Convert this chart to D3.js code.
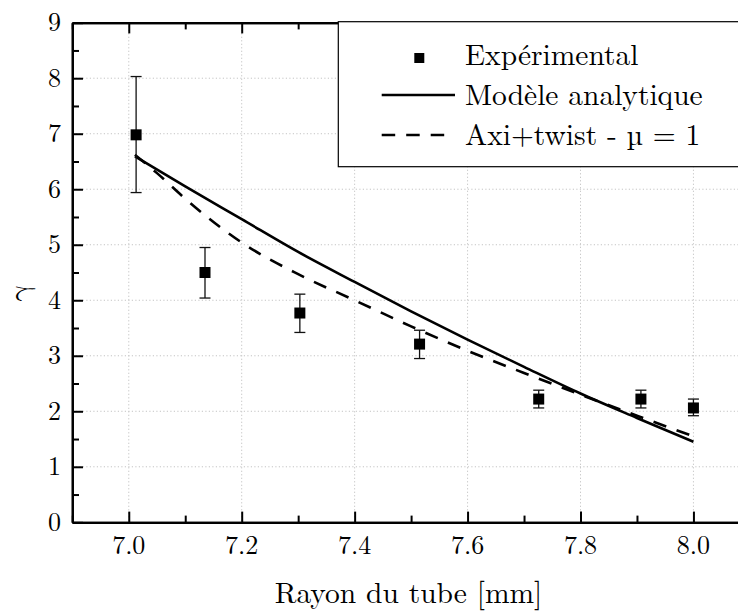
<!DOCTYPE html>
<html>
<head>
<meta charset="utf-8">
<script src="https://cdn.jsdelivr.net/npm/d3@7"></script>
</head>
<body style="margin:0;background:#fff">
<div id="chart"></div>
<script>
// Experimental points
const expX = [7.013, 7.135, 7.303, 7.515, 7.726, 7.907, 8.0];
const expY = [6.98, 4.50, 3.77, 3.21, 2.22, 2.22, 2.06];
const expLo = [5.94, 4.04, 3.42, 2.95, 2.06, 2.06, 1.92];
const expHi = [8.03, 4.95, 4.11, 3.46, 2.38, 2.38, 2.22];

// Modèle analytique
const modelX = [7.011, 7.1, 7.2, 7.3, 7.4, 7.5, 7.6, 7.7, 7.8, 7.9, 8.0];
const modelY = [6.59, 6.05, 5.46, 4.87, 4.33, 3.80, 3.29, 2.80, 2.32, 1.88, 1.45];

// Axi+twist - mu = 1
const axiX = [7.011, 7.05, 7.1, 7.15, 7.2, 7.3, 7.4, 7.5, 7.6, 7.7, 7.8, 7.9, 8.0];
const axiY = [6.62, 6.29, 5.83, 5.41, 5.04, 4.47, 4.00, 3.53, 3.09, 2.69, 2.30, 1.92, 1.55];

const xMajor = [7.0, 7.2, 7.4, 7.6, 7.8, 8.0];
const xMinor = [6.9, 7.1, 7.3, 7.5, 7.7, 7.9, 8.1];
const yMajor = [0, 1, 2, 3, 4, 5, 6, 7, 8, 9];
const yMinor = [0.5, 1.5, 2.5, 3.5, 4.5, 5.5, 6.5, 7.5, 8.5];

const legendLabels = ["Expérimental", "Modèle analytique", "Axi+twist - µ = 1"];

const FONT = "'Latin Modern Roman', 'Liberation Serif', serif";

const width = 738, height = 611;
const margin = { top: 22.7, left: 72.3 };
const plotW = 677.6, plotH = 499.6;

const svg = d3.select("#chart").append("svg")
  .attr("width", width)
  .attr("height", height)
  .attr("font-family", FONT);

const g = svg.append("g")
  .attr("transform", `translate(${margin.left},${margin.top})`);

const x = d3.scaleLinear().domain([6.9, 8.1]).range([0, plotW]);
const y = d3.scaleLinear().domain([0, 9]).range([plotH, 0]);

// Grid
g.append("g").selectAll("line")
  .data(xMajor)
  .join("line")
  .attr("x1", d => x(d)).attr("x2", d => x(d))
  .attr("y1", 0).attr("y2", plotH)
  .attr("stroke", "#c4c4c4").attr("stroke-width", 1)
  .attr("stroke-dasharray", "1.2,2.3");

g.append("g").selectAll("line")
  .data(yMajor.filter(d => d > 0 && d < 9))
  .join("line")
  .attr("x1", 0).attr("x2", plotW)
  .attr("y1", d => y(d)).attr("y2", d => y(d))
  .attr("stroke", "#c4c4c4").attr("stroke-width", 1)
  .attr("stroke-dasharray", "1.2,2.3");

// Lines
const model = modelX.map((d, i) => [d, modelY[i]]);
const axi = axiX.map((d, i) => [d, axiY[i]]);
const line = d3.line()
  .x(d => x(d[0]))
  .y(d => y(d[1]))
  .curve(d3.curveMonotoneX);

g.append("path")
  .datum(model)
  .attr("fill", "none")
  .attr("stroke", "#000")
  .attr("stroke-width", 2.6)
  .attr("d", line);

g.append("path")
  .datum(axi)
  .attr("fill", "none")
  .attr("stroke", "#000")
  .attr("stroke-width", 2.6)
  .attr("stroke-dasharray", "13.5,11")
  .attr("d", line);

// Error bars + squares
const pts = expX.map((d, i) => ({ x: d, y: expY[i], lo: expLo[i], hi: expHi[i] }));
const cap = 5.5;
const eb = g.append("g").attr("stroke", "#111").attr("stroke-width", 1.3);
eb.selectAll(".v").data(pts).join("line")
  .attr("x1", d => x(d.x)).attr("x2", d => x(d.x))
  .attr("y1", d => y(d.lo)).attr("y2", d => y(d.hi));
eb.selectAll(".t").data(pts).join("line")
  .attr("x1", d => x(d.x) - cap).attr("x2", d => x(d.x) + cap)
  .attr("y1", d => y(d.hi)).attr("y2", d => y(d.hi));
eb.selectAll(".b").data(pts).join("line")
  .attr("x1", d => x(d.x) - cap).attr("x2", d => x(d.x) + cap)
  .attr("y1", d => y(d.lo)).attr("y2", d => y(d.lo));

g.append("g").selectAll("rect")
  .data(pts)
  .join("rect")
  .attr("x", d => x(d.x) - 5.5)
  .attr("y", d => y(d.y) - 5.5)
  .attr("width", 11)
  .attr("height", 11)
  .attr("fill", "#000");

// Axes: ticks pointing inside, labels drawn separately
function styleAxis(sel) {
  sel.selectAll("path.domain").attr("stroke", "#000").attr("stroke-width", 2.2);
  sel.selectAll(".tick line").attr("stroke", "#000").attr("stroke-width", 2);
}

g.append("g")
  .attr("transform", `translate(0,${plotH})`)
  .call(d3.axisBottom(x).tickValues(xMajor).tickSize(-10.7).tickSizeOuter(0).tickFormat(""))
  .call(styleAxis);
g.append("g")
  .attr("transform", `translate(0,${plotH})`)
  .call(d3.axisBottom(x).tickValues(xMinor).tickSize(-6.7).tickSizeOuter(0).tickFormat(""))
  .call(styleAxis);
g.append("g")
  .call(d3.axisTop(x).tickValues(xMajor).tickSize(-10.7).tickSizeOuter(0).tickFormat(""))
  .call(styleAxis);
g.append("g")
  .call(d3.axisTop(x).tickValues(xMinor).tickSize(-6.7).tickSizeOuter(0).tickFormat(""))
  .call(styleAxis);
g.append("g")
  .call(d3.axisLeft(y).tickValues(yMajor).tickSize(-10.7).tickSizeOuter(0).tickFormat(""))
  .call(styleAxis);
g.append("g")
  .call(d3.axisLeft(y).tickValues(yMinor).tickSize(-6.7).tickSizeOuter(0).tickFormat(""))
  .call(styleAxis);

// Tick labels
g.append("g").selectAll("text")
  .data(xMajor)
  .join("text")
  .attr("x", d => x(d))
  .attr("y", plotH + 31.5)
  .attr("text-anchor", "middle")
  .attr("font-family", FONT)
  .attr("font-size", 26)
  .attr("fill", "#000")
  .text(d3.format(".1f"));

g.append("g").selectAll("text")
  .data(yMajor)
  .join("text")
  .attr("x", -11.3)
  .attr("y", d => y(d))
  .attr("dy", "0.32em")
  .attr("text-anchor", "end")
  .attr("font-family", FONT)
  .attr("font-size", 26)
  .attr("fill", "#000")
  .text(d3.format("d"));

// Legend
const lg = svg.append("g");
lg.append("rect")
  .attr("x", 338.3).attr("y", 21.7)
  .attr("width", 420).attr("height", 145)
  .attr("fill", "#fff")
  .attr("stroke", "#000")
  .attr("stroke-width", 1.2);

lg.append("rect")
  .attr("x", 414.3).attr("y", 53).attr("width", 10).attr("height", 10)
  .attr("fill", "#000");
lg.append("line")
  .attr("x1", 381.7).attr("x2", 455).attr("y1", 95).attr("y2", 95)
  .attr("stroke", "#000").attr("stroke-width", 2.6);
lg.append("line")
  .attr("x1", 381.7).attr("x2", 445).attr("y1", 135).attr("y2", 135)
  .attr("stroke", "#000").attr("stroke-width", 2.6)
  .attr("stroke-dasharray", "13.5,11");

lg.selectAll("text.lbl")
  .data(legendLabels)
  .join("text")
  .attr("class", "lbl")
  .attr("x", 465)
  .attr("y", (d, i) => 65 + i * 40)
  .attr("font-family", FONT)
  .attr("font-size", 29.5)
  .text(d => d);

// Axis titles
svg.append("text")
  .attr("x", 408.5)
  .attr("y", 603)
  .attr("text-anchor", "middle")
  .attr("font-family", FONT)
  .attr("font-size", 29.5)
  .text("Rayon du tube [mm]");

svg.append("text")
  .attr("transform", "translate(29,293) rotate(-90)")
  .attr("text-anchor", "middle")
  .attr("font-family", "'Latin Modern Math', 'Latin Modern Roman', serif")
  .attr("font-size", 29.5)
  .text("γ");
</script>
</body>
</html>
